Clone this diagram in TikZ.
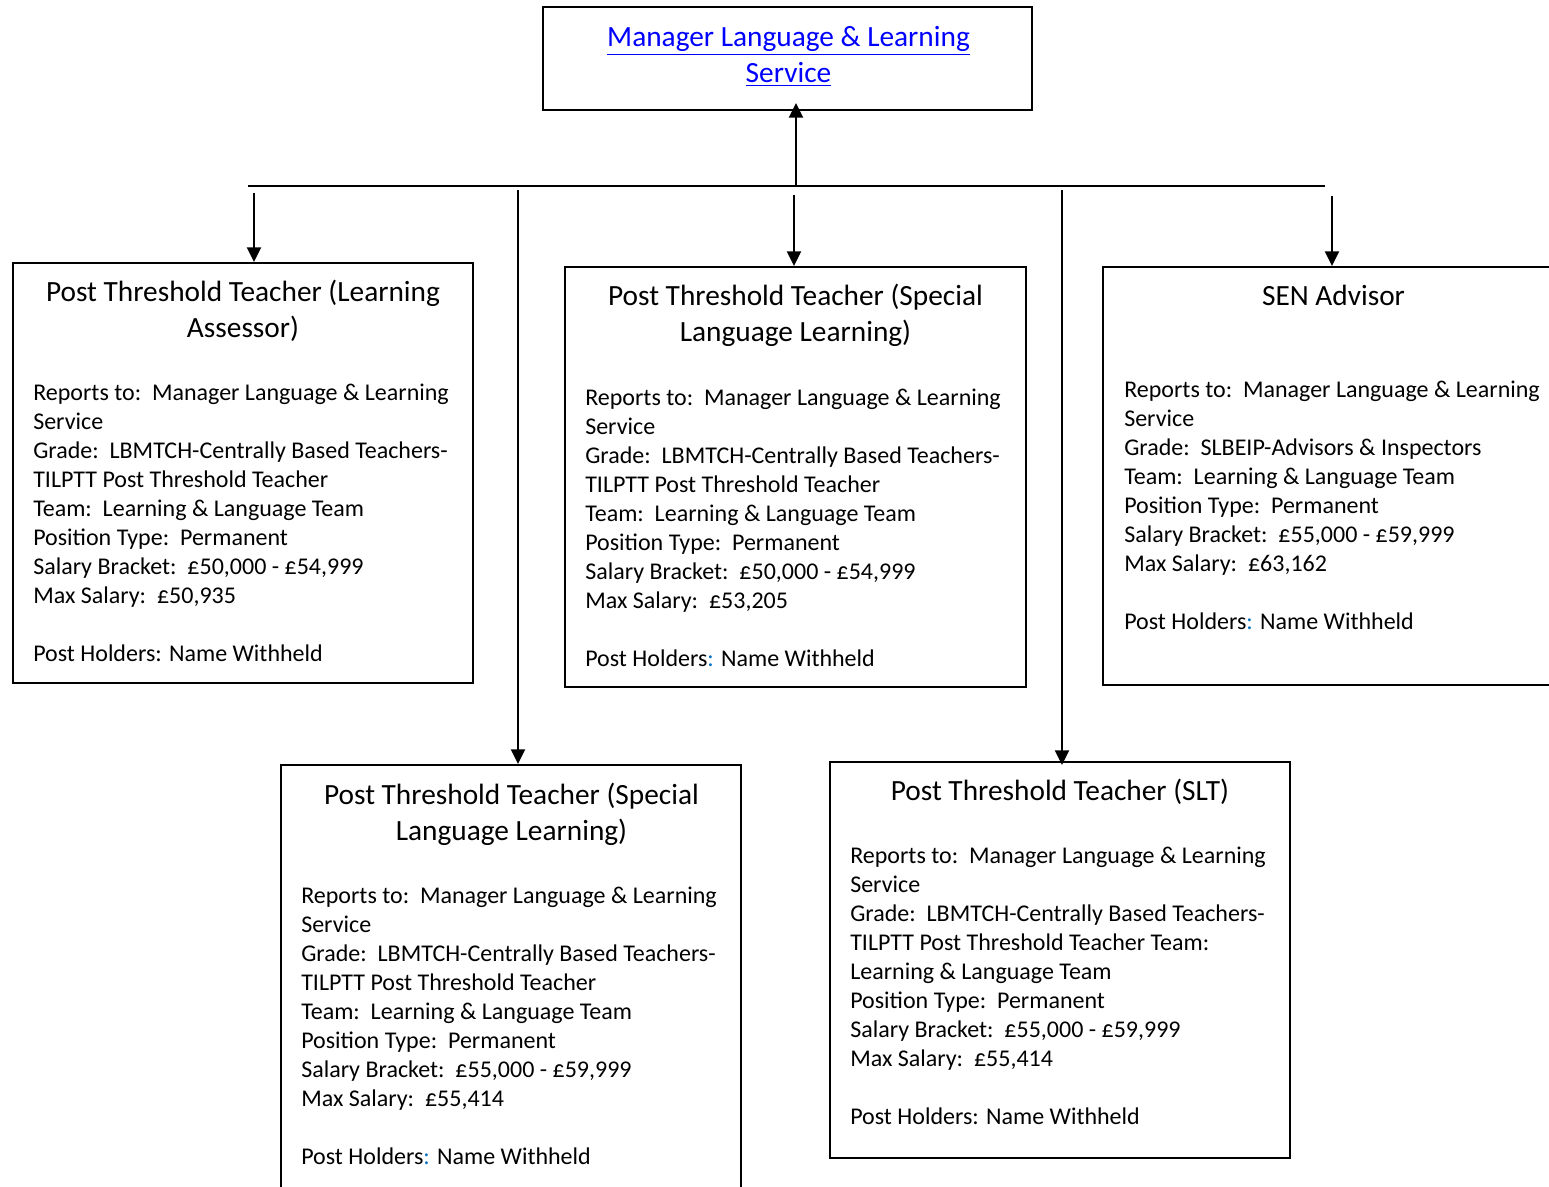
\documentclass[tikz,border=0pt]{standalone}
\usepackage{fontspec}
\setmainfont{Carlito}
\usetikzlibrary{arrows.meta,fit}
\definecolor{linkblue}{RGB}{0,0,255}
\definecolor{colonblue}{RGB}{0,112,192}
\newcommand{\bcolon}{\textcolor{colonblue}{:}}
\begin{document}
\begin{tikzpicture}[x=0.75pt,y=-0.75pt,
  box/.style={draw=black,line width=1.5pt,inner sep=0pt,rectangle},
  ttl/.style={anchor=base,align=center,inner sep=0pt,font=\fontsize{22pt}{27pt}\selectfont},
  body/.style={anchor=base west,align=left,inner sep=0pt,font=\fontsize{18pt}{21.75pt}\selectfont},
  conn/.style={line width=1.5pt},
  arr/.style={line width=1.5pt,-{Triangle[length=11pt,width=10.5pt]}}]
\useasboundingbox (0,0) rectangle (1549,1187);
\clip (0,0) rectangle (1549,1187);
\fill[white] (0,0) rectangle (1549,1187);

% boxes
\node[box, fit={(543,7) (1032,110)}] (top) {};
\node[box, fit={(13,263) (473,683)}] (A) {};
\node[box, fit={(565,267) (1026,687)}] (B) {};
\node[box, fit={(1103,267) (1563,685)}] (C) {};
\node[box, fit={(281,765) (741,1205)}] (D) {};
\node[box, fit={(830,762) (1290,1158)}] (E) {};

% top text (anchor base = last line)
\node[ttl, text=linkblue] (toptext) at (788.5,83) {\underline{Manager Language \& Learning}\\\underline{Service}};

% titles
\node[ttl] (Atitle) at (243,338) {Post Threshold Teacher (Learning\\Assessor)};
\node[ttl] (Btitle) at (795.5,342) {Post Threshold Teacher (Special\\Language Learning)};
\node[ttl] (Ctitle) at (1333.5,306) {SEN Advisor};
\node[ttl] (Dtitle) at (511.5,840) {Post Threshold Teacher (Special\\Language Learning)};
\node[ttl] (Etitle) at (1060,800) {Post Threshold Teacher (SLT)};

% bodies
\node[body] (Abody) at (33,661) {Reports to:\ \ Manager Language \& Learning\\Service\\Grade:\ \ LBMTCH-Centrally Based Teachers-\\TILPTT Post Threshold Teacher\\Team:\ \ Learning \& Language Team\\Position Type:\ \ Permanent\\Salary Bracket:\ \ £50,000 - £54,999\\Max Salary:\ \ £50,935\\[21.75pt]Post Holders: Name Withheld};
\node[body] (Bbody) at (585,666) {Reports to:\ \ Manager Language \& Learning\\Service\\Grade:\ \ LBMTCH-Centrally Based Teachers-\\TILPTT Post Threshold Teacher\\Team:\ \ Learning \& Language Team\\Position Type:\ \ Permanent\\Salary Bracket:\ \ £50,000 - £54,999\\Max Salary:\ \ £53,205\\[21.75pt]Post Holders\bcolon{} Name Withheld};
\node[body] (Cbody) at (1124,629) {Reports to:\ \ Manager Language \& Learning\\Service\\Grade:\ \ SLBEIP-Advisors \& Inspectors\\Team:\ \ Learning \& Language Team\\Position Type:\ \ Permanent\\Salary Bracket:\ \ £55,000 - £59,999\\Max Salary:\ \ £63,162\\[21.75pt]Post Holders\bcolon{} Name Withheld};
\node[body] (Dbody) at (301,1164) {Reports to:\ \ Manager Language \& Learning\\Service\\Grade:\ \ LBMTCH-Centrally Based Teachers-\\TILPTT Post Threshold Teacher\\Team:\ \ Learning \& Language Team\\Position Type:\ \ Permanent\\Salary Bracket:\ \ £55,000 - £59,999\\Max Salary:\ \ £55,414\\[21.75pt]Post Holders\bcolon{} Name Withheld};
\node[body] (Ebody) at (850,1124) {Reports to:\ \ Manager Language \& Learning\\Service\\Grade:\ \ LBMTCH-Centrally Based Teachers-\\TILPTT Post Threshold Teacher Team:\\Learning \& Language Team\\Position Type:\ \ Permanent\\Salary Bracket:\ \ £55,000 - £59,999\\Max Salary:\ \ £55,414\\[21.75pt]Post Holders: Name Withheld};

% connectors
\coordinate (hl) at (248,186);
\coordinate (hr) at (1325,186);
\coordinate (up) at (796,187);
\coordinate (s1) at (254,193);
\coordinate (s2) at (518,190);
\coordinate (s3) at (794,195);
\coordinate (s4) at (1062,190);
\coordinate (s5) at (1332,196);
\draw[conn] (hl) -- (hr);
\draw[arr, shorten >=-6pt] (up) -- (up |- top.south);
\draw[arr] (s1) -- (s1 |- A.north);
\draw[arr] (s2) -- (s2 |- D.north);
\draw[arr] (s3) -- (s3 |- B.north);
\draw[arr, shorten >=-3pt] (s4) -- (s4 |- E.north);
\draw[arr] (s5) -- (s5 |- C.north);
\end{tikzpicture}
\end{document}
